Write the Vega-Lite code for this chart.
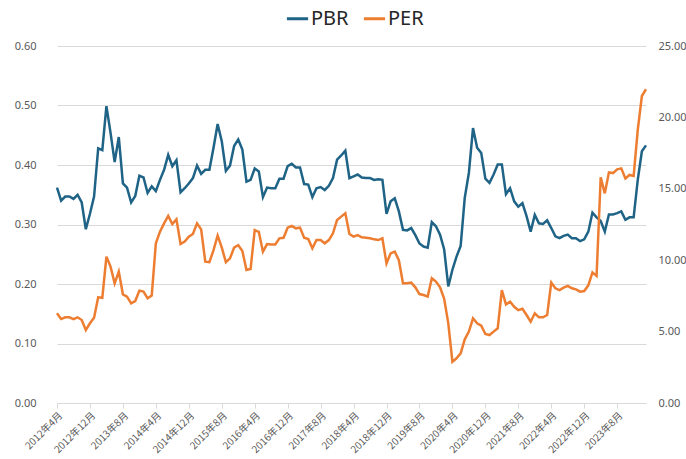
{
 "$schema": "https://vega.github.io/schema/vega-lite/v6.json",
 "width": 589,
 "height": 357,
 "autosize": {"type": "none"},
 "padding": {"left": 57, "top": 46, "right": 40, "bottom": 56},
 "background": "white",
 "config": {"view": {"stroke": null}, "font": "Noto Sans"},
 "data": {"values": [
  {"m":"2012年4月","PBR":0.362,"PER":6.28},
  {"m":"2012年5月","PBR":0.340,"PER":5.88},
  {"m":"2012年6月","PBR":0.347,"PER":6.00},
  {"m":"2012年7月","PBR":0.347,"PER":6.00},
  {"m":"2012年8月","PBR":0.343,"PER":5.88},
  {"m":"2012年9月","PBR":0.350,"PER":6.00},
  {"m":"2012年10月","PBR":0.337,"PER":5.81},
  {"m":"2012年11月","PBR":0.292,"PER":5.11},
  {"m":"2012年12月","PBR":0.318,"PER":5.58},
  {"m":"2013年1月","PBR":0.347,"PER":5.97},
  {"m":"2013年2月","PBR":0.428,"PER":7.40},
  {"m":"2013年3月","PBR":0.425,"PER":7.37},
  {"m":"2013年4月","PBR":0.499,"PER":10.25},
  {"m":"2013年5月","PBR":0.454,"PER":9.55},
  {"m":"2013年6月","PBR":0.405,"PER":8.38},
  {"m":"2013年7月","PBR":0.447,"PER":9.20},
  {"m":"2013年8月","PBR":0.369,"PER":7.61},
  {"m":"2013年9月","PBR":0.362,"PER":7.45},
  {"m":"2013年10月","PBR":0.337,"PER":6.98},
  {"m":"2013年11月","PBR":0.348,"PER":7.14},
  {"m":"2013年12月","PBR":0.382,"PER":7.87},
  {"m":"2014年1月","PBR":0.379,"PER":7.80},
  {"m":"2014年2月","PBR":0.353,"PER":7.33},
  {"m":"2014年3月","PBR":0.364,"PER":7.52},
  {"m":"2014年4月","PBR":0.356,"PER":11.18},
  {"m":"2014年5月","PBR":0.375,"PER":12.00},
  {"m":"2014年6月","PBR":0.392,"PER":12.58},
  {"m":"2014年7月","PBR":0.417,"PER":13.10},
  {"m":"2014年8月","PBR":0.398,"PER":12.53},
  {"m":"2014年9月","PBR":0.408,"PER":12.86},
  {"m":"2014年10月","PBR":0.354,"PER":11.13},
  {"m":"2014年11月","PBR":0.361,"PER":11.30},
  {"m":"2014年12月","PBR":0.369,"PER":11.65},
  {"m":"2015年1月","PBR":0.378,"PER":11.84},
  {"m":"2015年2月","PBR":0.399,"PER":12.58},
  {"m":"2015年3月","PBR":0.385,"PER":12.16},
  {"m":"2015年4月","PBR":0.392,"PER":9.90},
  {"m":"2015年5月","PBR":0.392,"PER":9.86},
  {"m":"2015年6月","PBR":0.429,"PER":10.71},
  {"m":"2015年7月","PBR":0.469,"PER":11.72},
  {"m":"2015年8月","PBR":0.440,"PER":10.90},
  {"m":"2015年9月","PBR":0.390,"PER":9.86},
  {"m":"2015年10月","PBR":0.399,"PER":10.13},
  {"m":"2015年11月","PBR":0.432,"PER":10.88},
  {"m":"2015年12月","PBR":0.443,"PER":11.06},
  {"m":"2016年1月","PBR":0.426,"PER":10.65},
  {"m":"2016年2月","PBR":0.372,"PER":9.31},
  {"m":"2016年3月","PBR":0.375,"PER":9.38},
  {"m":"2016年4月","PBR":0.394,"PER":12.11},
  {"m":"2016年5月","PBR":0.389,"PER":11.98},
  {"m":"2016年6月","PBR":0.346,"PER":10.60},
  {"m":"2016年7月","PBR":0.362,"PER":11.13},
  {"m":"2016年8月","PBR":0.361,"PER":11.10},
  {"m":"2016年9月","PBR":0.361,"PER":11.10},
  {"m":"2016年10月","PBR":0.377,"PER":11.53},
  {"m":"2016年11月","PBR":0.377,"PER":11.57},
  {"m":"2016年12月","PBR":0.398,"PER":12.28},
  {"m":"2017年1月","PBR":0.402,"PER":12.40},
  {"m":"2017年2月","PBR":0.396,"PER":12.23},
  {"m":"2017年3月","PBR":0.396,"PER":12.28},
  {"m":"2017年4月","PBR":0.368,"PER":11.57},
  {"m":"2017年5月","PBR":0.367,"PER":11.48},
  {"m":"2017年6月","PBR":0.346,"PER":10.83},
  {"m":"2017年7月","PBR":0.361,"PER":11.41},
  {"m":"2017年8月","PBR":0.363,"PER":11.41},
  {"m":"2017年9月","PBR":0.358,"PER":11.18},
  {"m":"2017年10月","PBR":0.365,"PER":11.41},
  {"m":"2017年11月","PBR":0.378,"PER":11.88},
  {"m":"2017年12月","PBR":0.409,"PER":12.82},
  {"m":"2018年1月","PBR":0.416,"PER":13.05},
  {"m":"2018年2月","PBR":0.424,"PER":13.28},
  {"m":"2018年3月","PBR":0.378,"PER":11.83},
  {"m":"2018年4月","PBR":0.381,"PER":11.65},
  {"m":"2018年5月","PBR":0.384,"PER":11.76},
  {"m":"2018年6月","PBR":0.379,"PER":11.60},
  {"m":"2018年7月","PBR":0.378,"PER":11.57},
  {"m":"2018年8月","PBR":0.378,"PER":11.53},
  {"m":"2018年9月","PBR":0.375,"PER":11.46},
  {"m":"2018年10月","PBR":0.376,"PER":11.41},
  {"m":"2018年11月","PBR":0.375,"PER":11.53},
  {"m":"2018年12月","PBR":0.318,"PER":9.78},
  {"m":"2019年1月","PBR":0.339,"PER":10.48},
  {"m":"2019年2月","PBR":0.344,"PER":10.60},
  {"m":"2019年3月","PBR":0.322,"PER":10.00},
  {"m":"2019年4月","PBR":0.291,"PER":8.38},
  {"m":"2019年5月","PBR":0.290,"PER":8.38},
  {"m":"2019年6月","PBR":0.294,"PER":8.43},
  {"m":"2019年7月","PBR":0.282,"PER":8.10},
  {"m":"2019年8月","PBR":0.268,"PER":7.63},
  {"m":"2019年9月","PBR":0.263,"PER":7.56},
  {"m":"2019年10月","PBR":0.261,"PER":7.45},
  {"m":"2019年11月","PBR":0.304,"PER":8.73},
  {"m":"2019年12月","PBR":0.297,"PER":8.50},
  {"m":"2020年1月","PBR":0.283,"PER":8.10},
  {"m":"2020年2月","PBR":0.258,"PER":7.30},
  {"m":"2020年3月","PBR":0.196,"PER":5.58},
  {"m":"2020年4月","PBR":0.224,"PER":2.89},
  {"m":"2020年5月","PBR":0.246,"PER":3.13},
  {"m":"2020年6月","PBR":0.264,"PER":3.48},
  {"m":"2020年7月","PBR":0.345,"PER":4.46},
  {"m":"2020年8月","PBR":0.387,"PER":5.00},
  {"m":"2020年9月","PBR":0.462,"PER":5.93},
  {"m":"2020年10月","PBR":0.429,"PER":5.58},
  {"m":"2020年11月","PBR":0.420,"PER":5.41},
  {"m":"2020年12月","PBR":0.377,"PER":4.83},
  {"m":"2021年1月","PBR":0.370,"PER":4.76},
  {"m":"2021年2月","PBR":0.384,"PER":5.00},
  {"m":"2021年3月","PBR":0.401,"PER":5.23},
  {"m":"2021年4月","PBR":0.401,"PER":7.91},
  {"m":"2021年5月","PBR":0.351,"PER":6.90},
  {"m":"2021年6月","PBR":0.361,"PER":7.09},
  {"m":"2021年7月","PBR":0.339,"PER":6.74},
  {"m":"2021年8月","PBR":0.330,"PER":6.50},
  {"m":"2021年9月","PBR":0.336,"PER":6.60},
  {"m":"2021年10月","PBR":0.314,"PER":6.16},
  {"m":"2021年11月","PBR":0.288,"PER":5.69},
  {"m":"2021年12月","PBR":0.316,"PER":6.28},
  {"m":"2022年1月","PBR":0.302,"PER":6.00},
  {"m":"2022年2月","PBR":0.301,"PER":6.00},
  {"m":"2022年3月","PBR":0.307,"PER":6.16},
  {"m":"2022年4月","PBR":0.294,"PER":8.43},
  {"m":"2022年5月","PBR":0.280,"PER":8.03},
  {"m":"2022年6月","PBR":0.277,"PER":7.91},
  {"m":"2022年7月","PBR":0.281,"PER":8.08},
  {"m":"2022年8月","PBR":0.283,"PER":8.20},
  {"m":"2022年9月","PBR":0.277,"PER":8.03},
  {"m":"2022年10月","PBR":0.277,"PER":7.96},
  {"m":"2022年11月","PBR":0.272,"PER":7.80},
  {"m":"2022年12月","PBR":0.275,"PER":7.84},
  {"m":"2023年1月","PBR":0.288,"PER":8.24},
  {"m":"2023年2月","PBR":0.320,"PER":9.15},
  {"m":"2023年3月","PBR":0.312,"PER":8.90},
  {"m":"2023年4月","PBR":0.306,"PER":15.80},
  {"m":"2023年5月","PBR":0.288,"PER":14.68},
  {"m":"2023年6月","PBR":0.317,"PER":16.15},
  {"m":"2023年7月","PBR":0.317,"PER":16.10},
  {"m":"2023年8月","PBR":0.319,"PER":16.36},
  {"m":"2023年9月","PBR":0.322,"PER":16.43},
  {"m":"2023年10月","PBR":0.308,"PER":15.73},
  {"m":"2023年11月","PBR":0.312,"PER":15.97},
  {"m":"2023年12月","PBR":0.312,"PER":15.90},
  {"m":"2024年1月","PBR":0.375,"PER":19.12},
  {"m":"2024年2月","PBR":0.423,"PER":21.50},
  {"m":"2024年3月","PBR":0.433,"PER":21.97}
 ]},
 "encoding": {
  "x": {
   "field": "m", "type": "ordinal", "sort": null,
   "scale": {"type": "point", "padding": 0},
   "axis": {
    "title": null,
    "values": ["2012年4月","2012年12月","2013年8月","2014年4月","2014年12月","2015年8月","2016年4月","2016年12月","2017年8月","2018年4月","2018年12月","2019年8月","2020年4月","2020年12月","2021年8月","2022年4月","2022年12月","2023年8月"],
    "labelAngle": -45,
    "labelFont": "Noto Sans CJK JP",
    "labelFontSize": 10,
    "labelColor": "#595959",
    "grid": false,
    "domainColor": "#d9d9d9",
    "tickColor": "#d9d9d9",
    "tickSize": 5,
    "labelPadding": 2
   }
  }
 },
 "layer": [
  {
   "mark": {"type": "line", "strokeWidth": 2.5},
   "encoding": {
    "y": {
     "field": "PBR", "type": "quantitative",
     "scale": {"domain": [0, 0.6]},
     "axis": {
      "orient": "left", "title": null,
      "values": [0, 0.1, 0.2, 0.3, 0.4, 0.5, 0.6],
      "format": ".2f",
      "grid": true, "gridColor": "#d9d9d9", "gridWidth": 1,
      "domain": false, "ticks": false,
      "labelPadding": 21, "labelFontSize": 11, "labelColor": "#595959"
     }
    },
    "color": {
     "datum": "PBR", "type": "nominal",
     "scale": {"domain": ["PBR", "PER"], "range": ["#1f6386", "#ed7d31"]},
     "legend": {
      "orient": "none", "legendX": 228, "legendY": -40,
      "direction": "horizontal", "title": null,
      "symbolType": "stroke", "symbolStrokeWidth": 3, "symbolSize": 450,
      "labelFontSize": 20, "labelColor": "#262626", "labelOffset": 1,
      "columnPadding": 8
     }
    }
   }
  },
  {
   "mark": {"type": "line", "strokeWidth": 2.5},
   "encoding": {
    "y": {
     "field": "PER", "type": "quantitative",
     "scale": {"domain": [0, 25]},
     "axis": {
      "orient": "right", "title": null,
      "values": [0, 5, 10, 15, 20, 25],
      "format": ".2f",
      "grid": false, "domain": false, "ticks": false,
      "labelPadding": 12, "labelFontSize": 11, "labelColor": "#595959"
     }
    },
    "color": {"datum": "PER", "type": "nominal"}
   }
  }
 ],
 "resolve": {"scale": {"y": "independent"}}
}
